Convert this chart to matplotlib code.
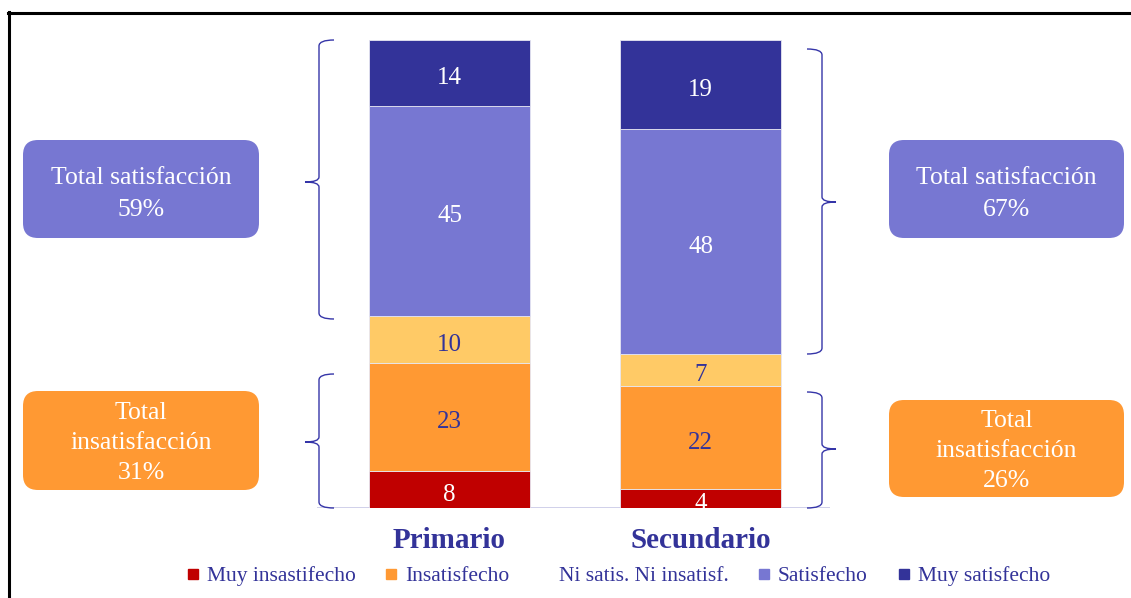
import numpy as np
import matplotlib
matplotlib.use("Agg")
import matplotlib.pyplot as plt
from matplotlib.patches import FancyBboxPatch, PathPatch
from matplotlib.path import Path
from matplotlib.lines import Line2D

# ---------------- data ----------------
categories = ["Primario", "Secundario"]
series_names = ["Muy insastifecho", "Insatisfecho", "Ni satis. Ni insatisf.",
                "Satisfecho", "Muy satisfecho"]
muy_insatisfecho = [8, 4]
insatisfecho = [23, 22]
ni_satis = [10, 7]
satisfecho = [45, 48]
muy_satisfecho = [14, 19]

series_values = [muy_insatisfecho, insatisfecho, ni_satis, satisfecho, muy_satisfecho]
series_colors = ["#C00000", "#FF9933", "#FFCA66", "#7777D2", "#333399"]
label_colors = ["white", "#333399", "#333399", "white", "white"]
legend_colors = ["#C00000", "#FF9933", "white", "#7777D2", "#333399"]

total_sat = [a + b for a, b in zip(satisfecho, muy_satisfecho)]
total_insat = [a + b for a, b in zip(muy_insatisfecho, insatisfecho)]

NAVY = "#333399"
FONT = "Liberation Serif"

# ---------------- figure ----------------
W, H = 1131, 598
fig = plt.figure(figsize=(W / 100, H / 100), dpi=100)
fig.patch.set_facecolor("white")

# bar axes: bars at pixel x 449.5 / 700.5, width 161 px, y 0 at px 508, 100 at px 40
px_per_x = 251.0
bar_bottom_px, bar_top_px = 508, 40
ax = fig.add_axes([0, (H - bar_bottom_px) / H, 1, (bar_bottom_px - bar_top_px) / H])
x = np.arange(len(categories))
ax.set_xlim(-449.5 / px_per_x, (W - 449.5) / px_per_x)
ax.set_ylim(0, 100)
bw = 161 / px_per_x

bottom = np.zeros(len(categories))
for vals, col, lcol in zip(series_values, series_colors, label_colors):
    vals = np.array(vals, dtype=float)
    ax.bar(x, vals, bw, bottom=bottom, color=col, edgecolor="#E6E6F2", linewidth=0.6)
    for xi, v, b in zip(x, vals, bottom):
        ax.annotate(f"{int(v)}", (xi, b + v / 2), xytext=(0, -4),
                    textcoords="offset points", ha="center", va="center",
                    color=lcol, fontsize=18, family=FONT)
    bottom += vals

# base line
def px2x(px):
    return (px - 449.5) / px_per_x
ax.hlines(0, px2x(317), px2x(830), color="#C8C8E6", lw=1.2, zorder=0.5)

ax.set_xticks(x)
ax.set_xticklabels(categories, fontsize=21, fontweight="bold", color=NAVY, family=FONT)
ax.tick_params(axis="x", length=0, pad=14)
ax.set_yticks([])
for s in ax.spines.values():
    s.set_visible(False)
ax.patch.set_alpha(0)

# ---------------- overlay (pixel coordinates) ----------------
ov = fig.add_axes([0, 0, 1, 1], zorder=3)
ov.set_xlim(0, W)
ov.set_ylim(H, 0)
ov.axis("off")
ov.patch.set_alpha(0)

# frame lines
ov.add_line(Line2D([8, W], [12.5, 12.5], color="black", lw=2.2))
ov.add_line(Line2D([8.5, 8.5], [12, H], color="black", lw=2.2))

def brace(xl, top, bot, tip, direction):
    d = direction  # -1 tip to left, +1 tip to right
    hook = 15
    tipw = 14
    verts = [(xl - d * hook, top), (xl, top), (xl, top + 6),
             (xl, tip - 5),
             (xl, tip), (xl + d * tipw, tip),
             (xl, tip), (xl, tip + 5),
             (xl, bot - 6),
             (xl, bot), (xl - d * hook, bot)]
    codes = [Path.MOVETO, Path.CURVE3, Path.CURVE3,
             Path.LINETO,
             Path.CURVE3, Path.CURVE3,
             Path.CURVE3, Path.CURVE3,
             Path.LINETO,
             Path.CURVE3, Path.CURVE3]
    ov.add_patch(PathPatch(Path(verts, codes), facecolor="none",
                           edgecolor="#3535A8", lw=1.0))

brace(319, 40, 319, 182, -1)
brace(319, 374, 508, 442, -1)
brace(822, 49, 354, 202, 1)
brace(822, 392, 508, 449, 1)

def box(x0, y0, x1, y1, color, text, cy, ls):
    ov.add_patch(FancyBboxPatch((x0, y0), x1 - x0, y1 - y0,
                                boxstyle="round,pad=0,rounding_size=15",
                                facecolor=color, edgecolor="none"))
    ov.text((x0 + x1) / 2, cy, text, ha="center", va="center", color="white",
            fontsize=18.5, family=FONT, linespacing=ls)

box(23, 140, 259, 238, "#7777D2", f"Total satisfacción\n{total_sat[0]}%", 194, 1.55)
box(23, 391, 259, 490, "#FF9933", f"Total\ninsatisfacción\n{total_insat[0]}%", 443, 1.47)
box(889, 140, 1124, 238, "#7777D2", f"Total satisfacción\n{total_sat[1]}%", 194, 1.55)
box(889, 400, 1124, 497, "#FF9933", f"Total\ninsatisfacción\n{total_insat[1]}%", 451, 1.47)

# ---------------- legend ----------------
handles = [Line2D([], [], marker="s", linestyle="none", markersize=7.5,
                  markerfacecolor=c, markeredgecolor=c) for c in legend_colors]
leg = fig.legend(handles, series_names, loc="center", ncol=5,
                 bbox_to_anchor=(618 / W, (H - 576) / H), frameon=False,
                 prop={"family": FONT, "size": 15.5},
                 handlelength=0.6, handletextpad=0.35, columnspacing=1.35,
                 borderaxespad=0)
for t in leg.get_texts():
    t.set_color(NAVY)

fig.savefig("out.png", dpi=100)
